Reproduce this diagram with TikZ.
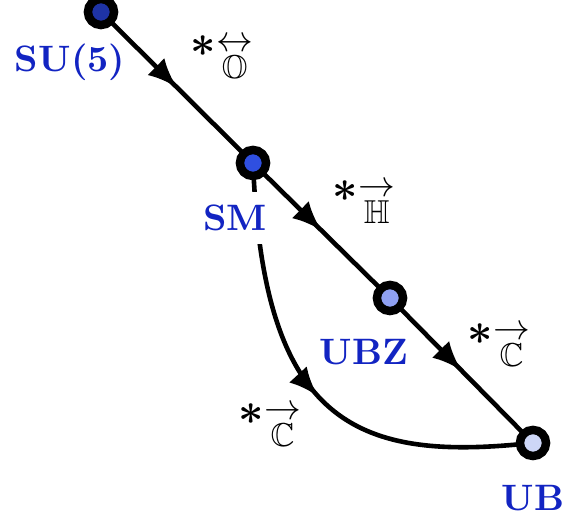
\documentclass[tikz,border=0pt]{standalone}
\usepackage{amsmath}
\usepackage{amssymb}
\usepackage{xcolor}
\usetikzlibrary{arrows.meta,decorations.markings}

\definecolor{gutblue}{HTML}{1224C2}
\definecolor{dotsu}{HTML}{1E33A6}
\definecolor{dotsm}{HTML}{2F4FE0}
\definecolor{dotubz}{HTML}{8FA0F2}
\definecolor{dotub}{HTML}{CDD6F7}

% breaking label: star, then arrow over blackboard letter
\newcommand{\brkto}[2]{\raisebox{6pt}{\large$\boldsymbol{\ast}$}{\small
    \begin{tabular}[b]{@{}c@{}}{\normalsize$#1$}\\[-3.5pt]$\mathbb{#2}$\end{tabular}}}

\begin{document}
\begin{tikzpicture}[
      x=0.272pt, y=0.272pt,
      dot/.style={circle, draw=black, line width=2.3pt, minimum size=7.1pt,
          inner sep=0pt, outer sep=0pt},
      grp/.style={text=gutblue, font=\bfseries, inner sep=1pt},
      brk/.style={font=\normalsize, inner sep=1pt},
      flow/.style={line width=1.25pt, draw=black,
          decoration={markings, mark=at position #1 with
              {\arrow{Latex[length=8pt, width=6.5pt]}}},
          postaction={decorate}},
      flow/.default=0.5
    ]
    \useasboundingbox (0,0) rectangle (584,-520);
    \node[dot, fill=dotsu] (su5) at (101,-12) {};
    \node[dot, fill=dotsm] (sm) at (253,-163) {};
    \node[dot, fill=dotubz] (ubz) at (390,-298) {};
    \node[dot, fill=dotub] (ub) at (533,-443) {};
    \draw[flow] (su5) -- (sm);
    \draw[flow] (sm) -- (ubz);
    \draw[flow] (ubz) -- (ub);
    \draw[flow=0.52] (sm) .. controls (266,-420) and (355,-460) .. (ub);
    % group names
    \node[grp] (su5name) at (70,-62) {SU(5)};
    \node[grp, fill=white, inner xsep=1pt, inner ysep=3.5pt] (smname) at (235,-218) {SM};
    \node[grp] (ubzname) at (364,-352) {UBZ};
    \node[grp] (ubname) at (533,-498) {UB};
    % breakings
    \node[brk] (oct) at (222,-57) {\brkto{\leftrightarrow}{O}};
    \node[brk] (quat) at (364,-202) {\brkto{\rightarrow}{H}};
    \node[brk] (cplxa) at (499,-345) {\brkto{\rightarrow}{C}};
    \node[brk] (cplxb) at (270,-425) {\brkto{\rightarrow}{C}};
  \end{tikzpicture}
\end{document}
